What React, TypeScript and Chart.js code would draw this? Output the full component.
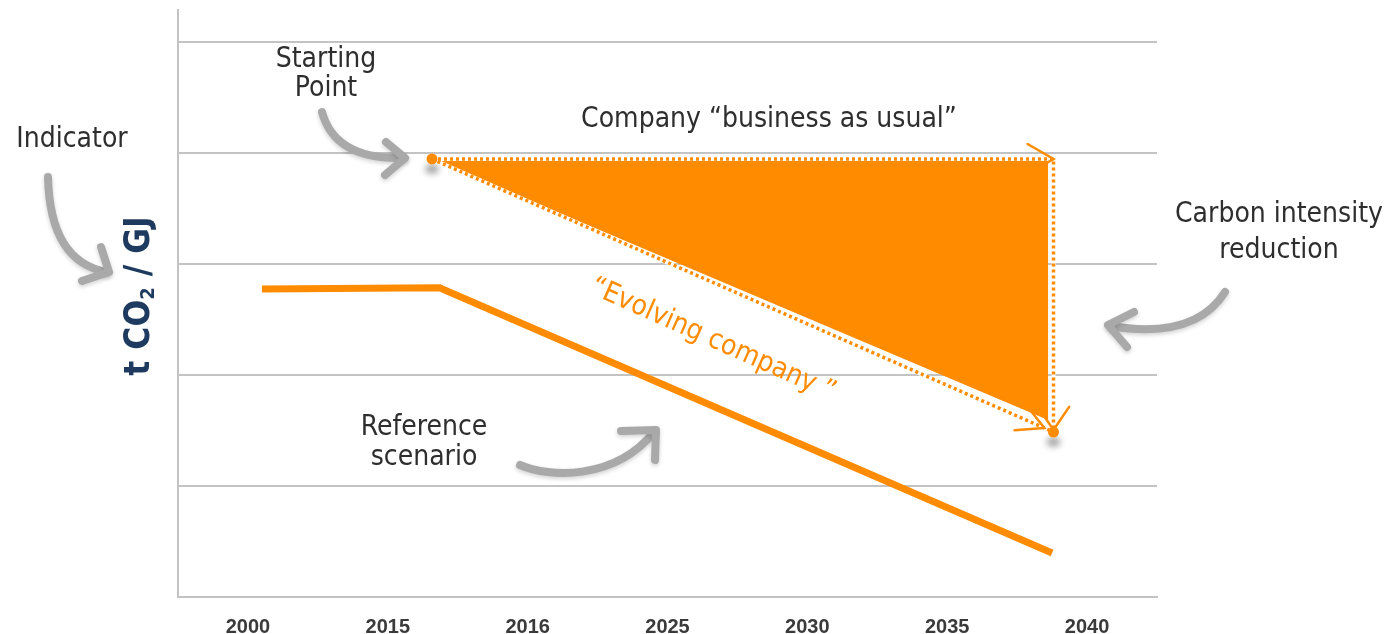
import React, { useEffect, useRef } from "react";
import { Chart, registerables } from "chart.js";

Chart.register(...registerables);

// ---- Data ----
const xLabels = ["2000", "2015", "2016", "2025", "2030", "2035", "2040"];
const yGridValues = [0, 1, 2, 3, 4, 5];
const yMax = 5.288;

// Reference scenario (solid orange)
const referenceX = [0.1, 1.37, 5.75];
const referenceY = [2.775, 2.785, 0.396];

// Company "business as usual" (dotted, horizontal) and carbon intensity reduction (dotted, vertical)
const bauX = [1.316, 5.76, 5.76];
const bauY = [3.946, 3.946, 1.486];

// "Evolving company" (dotted, diagonal)
const evolvingX = [1.316, 5.76];
const evolvingY = [3.946, 1.486];

// Filled gap area (triangle)
const gapX = [1.316, 5.721, 5.721];
const gapY = [3.946, 3.946, 1.595];

// Starting point / end point markers
const markerX = [1.316, 5.76];
const markerY = [3.946, 1.486];

const ORANGE = "#FF8C00";
const GRID = "#c3c3c3";
const TEXT = "#2e2e2e";
const ARROW_GRAY = "#a9a9a9";
const NAVY = "#1E3A5F";
const ANN_FONT = '"DejaVu Sans Condensed", "DejaVu Sans", sans-serif';

const pts = (xs: number[], ys: number[]) => xs.map((x, i) => ({ x, y: ys[i] }));

function head(ctx: CanvasRenderingContext2D, tx: number, ty: number, dx: number, dy: number, len: number, angDeg: number) {
  const n = Math.hypot(dx, dy);
  const rx = -dx / n, ry = -dy / n;
  const a = (angDeg * Math.PI) / 180;
  const arms = [a, -a].map((t) => ({
    x: tx + len * (rx * Math.cos(t) - ry * Math.sin(t)),
    y: ty + len * (rx * Math.sin(t) + ry * Math.cos(t)),
  }));
  ctx.beginPath();
  ctx.moveTo(arms[0].x, arms[0].y);
  ctx.lineTo(tx, ty);
  ctx.lineTo(arms[1].x, arms[1].y);
  ctx.stroke();
}

const annotationPlugin = {
  id: "annotations",
  beforeDatasetsDraw(chart: any) {
    const ctx: CanvasRenderingContext2D = chart.ctx;
    const meta = chart.getDatasetMeta(0);
    ctx.save();
    ctx.filter = "blur(3px)";
    ctx.fillStyle = "rgba(0,0,0,0.35)";
    meta.data.forEach((p: any) => {
      ctx.beginPath();
      ctx.ellipse(p.x, p.y + 10, 7, 5, 0, 0, Math.PI * 2);
      ctx.fill();
    });
    ctx.restore();
  },
  afterDatasetsDraw(chart: any) {
    const ctx: CanvasRenderingContext2D = chart.ctx;
    const bau = chart.getDatasetMeta(2).data;
    const evo = chart.getDatasetMeta(1).data;
    ctx.save();
    ctx.strokeStyle = ORANGE;
    ctx.lineWidth = 2.5;
    ctx.lineCap = "round";
    // BAU arrow (pointing right)
    head(ctx, bau[1].x, bau[1].y, bau[1].x - bau[0].x, 0, 30, 30);
    // Reduction arrow (pointing down)
    head(ctx, bau[2].x, bau[2].y - 2, 0, bau[2].y - bau[1].y, 28, 34);
    // Evolving arrow
    const dx = evo[1].x - evo[0].x, dy = evo[1].y - evo[0].y;
    const n = Math.hypot(dx, dy);
    head(ctx, evo[1].x - (10 * dx) / n, evo[1].y - (10 * dy) / n, dx, dy, 30, 28);
    ctx.restore();
  },
  afterDraw(chart: any) {
    const ctx: CanvasRenderingContext2D = chart.ctx;
    ctx.save();
    // ---- texts ----
    ctx.fillStyle = TEXT;
    ctx.font = `28px ${ANN_FONT}`;
    ctx.textAlign = "center";
    ctx.textBaseline = "alphabetic";
    ctx.fillText("Indicator", 72, 147);
    ctx.fillText("Starting", 326, 67);
    ctx.fillText("Point", 326, 96);
    ctx.fillText("Company \u201Cbusiness as usual\u201D", 769, 127);
    ctx.fillText("Carbon intensity", 1279, 222);
    ctx.fillText("reduction", 1279, 258);
    ctx.fillText("Reference", 424, 435);
    ctx.fillText("scenario", 424, 465);

    // Evolving company (rotated, orange)
    ctx.save();
    ctx.fillStyle = ORANGE;
    ctx.translate(713, 340);
    ctx.rotate((24 * Math.PI) / 180);
    ctx.textBaseline = "middle";
    ctx.fillText("\u201CEvolving company \u201D", 0, 0);
    ctx.restore();

    // Y axis title: t CO2 / GJ
    ctx.save();
    ctx.fillStyle = NAVY;
    ctx.translate(139.5, 296);
    ctx.rotate(-Math.PI / 2);
    ctx.textAlign = "left";
    ctx.textBaseline = "middle";
    const big = `bold 35px ${ANN_FONT}`;
    const small = `bold 20px ${ANN_FONT}`;
    ctx.font = big;
    const w1 = ctx.measureText("t CO").width;
    const w3 = ctx.measureText(" / GJ").width;
    ctx.font = small;
    const w2 = ctx.measureText("2").width;
    const x0 = -(w1 + w2 + w3) / 2;
    ctx.font = big;
    ctx.fillText("t CO", x0, 0);
    ctx.font = small;
    ctx.fillText("2", x0 + w1, 9);
    ctx.font = big;
    ctx.fillText(" / GJ", x0 + w1 + w2, 0);
    ctx.restore();

    // ---- gray curved arrows ----
    ctx.strokeStyle = ARROW_GRAY;
    ctx.lineWidth = 8;
    ctx.lineCap = "round";
    ctx.lineJoin = "round";
    ctx.shadowColor = "rgba(0,0,0,0.18)";
    ctx.shadowBlur = 4;
    ctx.shadowOffsetY = 2;
    const arrow = (path: () => void, tip: [number, number], a1: [number, number], a2: [number, number]) => {
      ctx.beginPath();
      path();
      ctx.stroke();
      ctx.beginPath();
      ctx.moveTo(a1[0], a1[1]);
      ctx.lineTo(tip[0], tip[1]);
      ctx.lineTo(a2[0], a2[1]);
      ctx.stroke();
    };
    // Indicator arrow
    arrow(() => { ctx.moveTo(48, 177); ctx.quadraticCurveTo(50, 262, 107, 272); }, [109, 272], [82, 281], [101, 247]);
    // Starting point arrow
    arrow(() => { ctx.moveTo(322, 112); ctx.quadraticCurveTo(335, 160, 404, 158); }, [405, 158], [386, 142], [385, 175]);
    // Reference scenario arrow
    arrow(() => { ctx.moveTo(520, 465); ctx.bezierCurveTo(550, 478, 615, 480, 654, 432); }, [656, 430], [621, 431], [655, 460]);
    // Carbon intensity reduction arrow
    arrow(() => { ctx.moveTo(1225, 292); ctx.quadraticCurveTo(1195, 340, 1110, 326); }, [1108, 325], [1134, 312], [1127, 347]);
    ctx.restore();
  },
};

export default function App() {
  const canvasRef = useRef<HTMLCanvasElement | null>(null);

  useEffect(() => {
    document.body.style.margin = "0";
    const canvas = canvasRef.current;
    if (!canvas) return;
    const chart = new Chart(canvas, {
      type: "scatter",
      data: {
        datasets: [
          {
            label: "markers",
            data: pts(markerX, markerY),
            showLine: false,
            pointRadius: 5.5,
            pointBackgroundColor: ORANGE,
            pointBorderWidth: 0,
            order: 0,
          },
          {
            label: "Evolving company",
            data: pts(evolvingX, evolvingY),
            showLine: true,
            borderColor: ORANGE,
            borderWidth: 3.5,
            borderDash: [3, 3],
            pointRadius: 0,
            fill: false,
            order: 1,
          },
          {
            label: "Business as usual",
            data: pts(bauX, bauY),
            showLine: true,
            borderColor: ORANGE,
            borderWidth: 3.5,
            borderDash: [3, 3],
            pointRadius: 0,
            fill: false,
            order: 1,
          },
          {
            label: "evolving-under",
            data: pts(evolvingX, evolvingY),
            showLine: true,
            borderColor: "#ffffff",
            borderWidth: 4,
            pointRadius: 0,
            fill: false,
            order: 2,
          },
          {
            label: "bau-under",
            data: pts(bauX, bauY),
            showLine: true,
            borderColor: "#ffffff",
            borderWidth: 4,
            pointRadius: 0,
            fill: false,
            order: 2,
          },
          {
            label: "Reference scenario",
            data: pts(referenceX, referenceY),
            showLine: true,
            borderColor: ORANGE,
            borderWidth: 7,
            pointRadius: 0,
            fill: false,
            order: 3,
          },
          {
            label: "Carbon intensity reduction",
            data: pts(gapX, gapY),
            showLine: true,
            borderWidth: 0,
            borderColor: ORANGE,
            backgroundColor: ORANGE,
            pointRadius: 0,
            fill: "shape",
            order: 4,
          },
        ],
      },
      options: {
        animation: false,
        responsive: true,
        maintainAspectRatio: false,
        events: [],
        layout: { padding: { left: 0, right: 236, top: 10, bottom: 0 } },
        plugins: { legend: { display: false }, tooltip: { enabled: false } },
        scales: {
          x: {
            type: "linear",
            min: -0.5,
            max: 6.5,
            grid: { display: false, drawTicks: false },
            border: { display: true, color: GRID, width: 2 },
            afterBuildTicks: (s: any) => {
              s.ticks = xLabels.map((_, i) => ({ value: i }));
            },
            afterFit: (s: any) => {
              s.height = 37;
            },
            ticks: {
              autoSkip: false,
              maxRotation: 0,
              padding: 18,
              color: "#3a3a3a",
              font: { family: '"Liberation Sans", Arial, sans-serif', weight: "bold", size: 20 },
              callback: (v: any) => xLabels[Math.round(Number(v))] ?? "",
            },
          },
          y: {
            type: "linear",
            min: 0,
            max: yMax,
            grid: { color: GRID, lineWidth: 2, drawTicks: false },
            border: { display: true, color: GRID, width: 2 },
            afterBuildTicks: (s: any) => {
              s.ticks = yGridValues.map((v) => ({ value: v }));
            },
            afterFit: (s: any) => {
              s.width = 178;
            },
            ticks: { display: false },
          },
        },
      },
      plugins: [annotationPlugin],
    } as any);
    return () => chart.destroy();
  }, []);

  return (
    <div style={{ position: "relative", width: 1393, height: 634 }}>
      <canvas ref={canvasRef} />
    </div>
  );
}
